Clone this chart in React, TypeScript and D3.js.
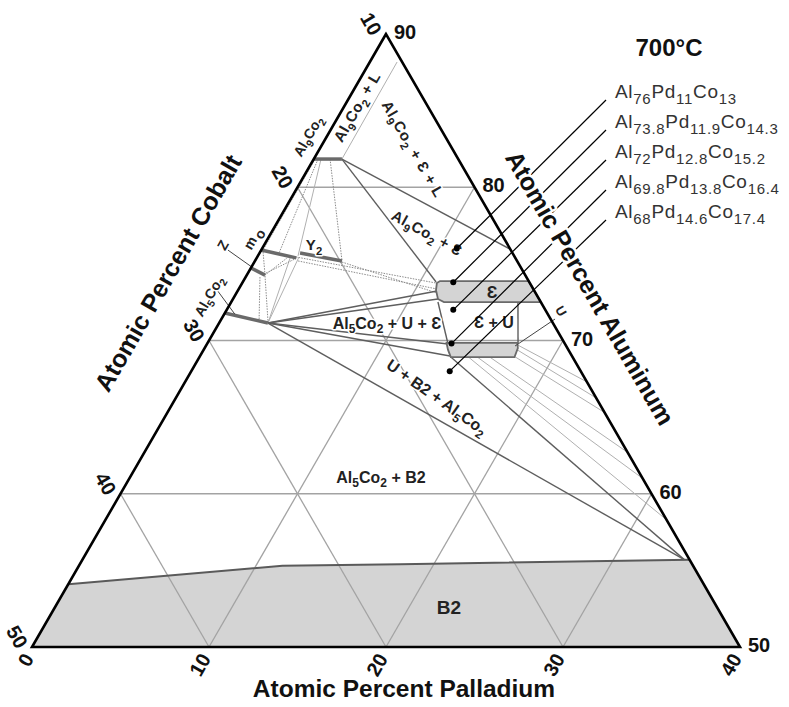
import React from 'react';
import * as d3 from 'd3';

type Pt = [number, number]; // [Al, Pd] in at.%

// frame: Al 50-90, Pd 0-40, Co 10-50
const alGrid = [60, 70, 80];
const pdGrid = [10, 20, 30];
const coGrid = [20, 30, 40];
const alTicks = [50, 60, 70, 80, 90];
const pdTicks = [0, 10, 20, 30, 40];
const coTicks = [10, 20, 30, 40, 50];

// B2 single phase upper boundary
const b2Boundary: Pt[] = [[54.1, 0], [55.3, 11.5], [55.4, 18.1], [55.7, 34.3]];
const b2Corner: Pt = [55.7, 34.0];

// single phase fields
const epsRegion: Pt[] = [
  [73.88, 11.11], [73.88, 16.12], [72.51, 17.49], [72.51, 12.02],
  [72.71, 11.58], [73.29, 11.18], [73.75, 11.0],
];
const uRegion: Pt[] = [
  [69.84, 13.5], [69.84, 17.5], [69.5, 17.7], [68.92, 17.8], [68.92, 14.2], [69.4, 13.8],
];

// line compounds
const barAl9Co2: Pt[] = [[81.84, 0], [81.84, 1.59]];
const barO: Pt[] = [[75.9, 0], [75.39, 2.23]];
const barY2: Pt[] = [[75.71, 2.29], [75.19, 4.92]];
const barZ: Pt[] = [[74.73, 0], [74.27, 1.03]];
const barAl5Co2: Pt[] = [[71.79, 0], [71.14, 2.76]];

// phase boundaries / tie triangles
const tiesDark: Pt[][] = [
  [[81.84, 1.59], [73.82, 10.92]],
  [[81.84, 1.59], [75.97, 14.02]],
  [[71.14, 2.76], [73.23, 11.27]],
  [[71.14, 2.76], [72.71, 11.58]],
  [[71.14, 2.76], [69.77, 13.62]],
  [[71.14, 2.76], [68.99, 14.12]],
  [[71.14, 2.76], b2Corner],
  [[68.92, 14.2], b2Corner],
  [[72.51, 11.68], [69.77, 13.62]],
  [[72.51, 16.2], [69.84, 17.54]],
];
const tiesLight: Pt[][] = [
  [[81.84, 1.59], [88.17, 1.54]],
  [[81.84, 0.41], [75.52, 2.27]],
  [[71.14, 2.76], [75.39, 1.89]],
  [[71.14, 2.76], [75.45, 2.36]],
  [[69.7, 17.6], [67.3, 22.7]],
  [[69.4, 17.7], [66.25, 23.75]],
  [[69.0, 17.7], [65.3, 24.7]],
  [[68.92, 16.4], [62.7, 27.3]],
  [[68.92, 15.7], [61.0, 29.0]],
  [[68.92, 15.2], [58.3, 31.7]],
];
const tiesDotted: Pt[][] = [
  [[81.84, 0.07], [75.9, 0.1]],
  [[81.84, 0.24], [75.65, 1.11]],
  [[81.84, 0.92], [75.19, 4.92]],
  [[75.45, 2.19], [73.75, 10.95]],
  [[75.19, 2.44], [73.36, 11.2]],
  [[75.12, 4.95], [73.1, 11.33]],
  [[74.27, 1.03], [75.84, 0.13]],
  [[74.27, 1.03], [75.39, 1.72]],
  [[74.4, 1.02], [75.39, 2.28]],
  [[74.14, 0.81], [71.34, 2.16]],
  [[74.21, 1.06], [71.21, 2.73]],
];
const leaders: Pt[][] = [
  [[75.9, -1.88], [74.79, 0.03]],
  [[73.3, -1.2], [71.72, 0.6]],
  [[71.4, 18.85], [69.64, 17.47]],
];

// analysed alloys
const alloyAl = [76, 73.8, 72, 69.8, 68];
const alloyPd = [11, 11.9, 12.8, 13.8, 14.6];
const alloyCo = [13, 14.3, 15.2, 16.4, 17.4];

const BL = [32, 647];
const BR = [740, 647];
const TOP = [386, 34];
const aScale = d3.scaleLinear().domain([50, 90]).range([0, 1]);
const pScale = d3.scaleLinear().domain([0, 40]).range([0, 1]);
const proj = ([al, pd]: Pt): [number, number] => {
  const a = aScale(al);
  const p = pScale(pd);
  return [BL[0] + p * (BR[0] - BL[0]) + a * (TOP[0] - BL[0]), BL[1] + a * (TOP[1] - BL[1])];
};
const line = d3.line<Pt>().x((d) => proj(d)[0]).y((d) => proj(d)[1]);
const closed = d3.line<Pt>().x((d) => proj(d)[0]).y((d) => proj(d)[1]).curve(d3.curveLinearClosed);

const FONT = 'Liberation Sans, Arial, Helvetica, sans-serif';

type Part = [string, number?];
const Chem = ({ parts, x, y, rot = 0, size = 15, sub, anchor = 'middle', fill = '#222', weight = 'bold', halo = true, ls = 0, baseline = false }: any) => {
  const sz = sub || size * 0.75;
  const shift = size * 0.3;
  let inSub = false;
  const spans = (parts as Part[]).map(([t, s], i) => {
    let dy = 0;
    if (s && !inSub) dy = shift;
    else if (!s && inSub) dy = -shift;
    inSub = !!s;
    return (
      <tspan key={i} dy={dy || undefined} fontSize={s ? sz : undefined}>
        {t}
      </tspan>
    );
  });
  return (
    <text
      transform={`translate(${x},${y}) rotate(${rot})`}
      textAnchor={anchor}
      dy={baseline ? undefined : '0.35em'}
      fontFamily={FONT}
      fontSize={size}
      fontWeight={weight}
      fill={fill}
      letterSpacing={ls}
      stroke={halo ? '#fff' : 'none'}
      strokeWidth={halo ? 3 : 0}
      strokeLinejoin="round"
      style={{ paintOrder: 'stroke', whiteSpace: 'pre' }}
    >
      {spans}
    </text>
  );
};

const EPS = 'Ɛ';

export default function App() {
  const b2Poly: Pt[] = [...b2Boundary, [50, 40], [50, 0]];
  const tri = [TOP, BL, BR];
  const gridSegs: Pt[][] = [
    ...alGrid.map((v) => [[v, 0], [v, 90 - v]] as Pt[]),
    ...pdGrid.map((v) => [[50, v], [90 - v, v]] as Pt[]),
    ...coGrid.map((v) => [[100 - v, 0], [50, 50 - v]] as Pt[]),
  ];
  const labelBase = alloyAl.map((_, i) => 98 + i * 30);

  return (
    <svg width={789} height={707} style={{ position: 'absolute', left: 0, top: 0, background: '#fff' }}>
      <path d={line(b2Poly) || ''} fill="#d4d4d4" stroke="none" />
      {gridSegs.map((s, i) => (
        <path key={i} d={line(s) || ''} stroke="#a3a3a3" strokeWidth={1.3} fill="none" />
      ))}
      <path d={line(b2Boundary) || ''} stroke="#5a5a5a" strokeWidth={2} fill="none" />

      {tiesLight.map((s, i) => (
        <path key={i} d={line(s) || ''} stroke="#b0b0b0" strokeWidth={1} fill="none" />
      ))}
      {tiesDotted.map((s, i) => (
        <path key={i} d={line(s) || ''} stroke="#8c8c8c" strokeWidth={1} strokeDasharray="1.5,1.2" fill="none" />
      ))}
      {tiesDark.map((s, i) => (
        <path key={i} d={line(s) || ''} stroke="#5e5e5e" strokeWidth={1.4} fill="none" />
      ))}

      <path d={closed(epsRegion) || ''} fill="#d4d4d4" stroke="#6a6a6a" strokeWidth={1.8} />
      <path d={closed(uRegion) || ''} fill="#d4d4d4" stroke="#6a6a6a" strokeWidth={1.8} />

      {[barAl9Co2, barO, barY2, barZ, barAl5Co2].map((b, i) => (
        <path key={i} d={line(b) || ''} stroke="#6a6a6a" strokeWidth={3.5} fill="none" />
      ))}
      {leaders.map((s, i) => (
        <path key={i} d={line(s) || ''} stroke="#444" strokeWidth={1} fill="none" />
      ))}

      <path d={`M${tri.map((p) => p.join(',')).join('L')}Z`} fill="none" stroke="#000" strokeWidth={2.6} strokeLinejoin="miter" />

      {/* field labels */}
      <Chem parts={[['Al'], ['9', 1], ['Co'], ['2', 1], [' + L']]} x={357} y={107} rot={-60} size={15} ls={0.4} />
      <Chem parts={[['Al'], ['9', 1], ['Co'], ['2', 1], [` + ${EPS} + L`]]} x={413} y={149} rot={60} size={15} ls={0.6} />
      <Chem parts={[['Al'], ['9', 1], ['Co'], ['2', 1], [` + ${EPS}`]]} x={427} y={233} rot={29} size={15} ls={0.4} />
      <Chem parts={[['Al'], ['9', 1], ['Co'], ['2', 1]]} x={308} y={136} rot={-60} size={14} />
      <Chem parts={[['Y'], ['2', 1]]} x={314} y={245} size={15} />
      <Chem parts={[['Z']]} x={223} y={245} rot={-60} size={14} />
      <Chem parts={[['m']]} x={250} y={243} rot={-60} size={14} />
      <Chem parts={[['o']]} x={260} y={234} rot={-60} size={14} />
      <Chem parts={[['Al'], ['5', 1], ['Co'], ['2', 1]]} x={209} y={296} rot={-60} size={14} />
      <Chem parts={[['Al'], ['5', 1], ['Co'], ['2', 1], [` + U + ${EPS}`]]} x={387} y={323} size={16} />
      <Chem parts={[[EPS]]} x={492} y={292} size={17} halo={false} />
      <Chem parts={[[`${EPS} + U`]]} x={494} y={322} size={16} />
      <Chem parts={[['U']]} x={561} y={311} rot={60} size={13} />
      <Chem parts={[['U + B2 + Al'], ['5', 1], ['Co'], ['2', 1]]} x={437} y={397} rot={35} size={16} />
      <Chem parts={[['Al'], ['5', 1], ['Co'], ['2', 1], [' + B2']]} x={381} y={477} size={16} />
      <Chem parts={[['B2']]} x={449} y={607} size={19} halo={false} />

      {/* analysed alloys */}
      {alloyAl.map((al, i) => {
        const [x, y] = proj([al, alloyPd[i]]);
        return (
          <g key={i}>
            <line x1={x} y1={y} x2={606} y2={labelBase[i] + 2} stroke="#000" strokeWidth={1.2} />
            <circle cx={x} cy={y} r={3} fill="#000" />
          </g>
        );
      })}

      {/* axis titles */}
      <text x={404} y={697} textAnchor="middle" fontFamily={FONT} fontSize={24.5} fontWeight="bold" fill="#111">
        Atomic Percent Palladium
      </text>
      <text transform="translate(168,273) rotate(-60)" textAnchor="middle" dy="0.35em" fontFamily={FONT} fontSize={25} fontWeight="bold" fill="#111">
        Atomic Percent Cobalt
      </text>
      <text
        transform="translate(590,288) rotate(60)"
        textAnchor="middle"
        dy="0.35em"
        fontFamily={FONT}
        fontSize={25}
        fontWeight="bold"
        fill="#111"
        stroke="#fff"
        strokeWidth={5}
        strokeLinejoin="round"
        style={{ paintOrder: 'stroke' }}
      >
        Atomic Percent Aluminum
      </text>
      <text x={669} y={56} textAnchor="middle" fontFamily={FONT} fontSize={24} fontWeight="bold" fill="#111">
        700°C
      </text>

      {alloyAl.map((al, i) => (
        <Chem
          key={i}
          parts={[['Al'], [String(al), 1], ['Pd'], [String(alloyPd[i]), 1], ['Co'], [String(alloyCo[i]), 1]]}
          x={615}
          y={labelBase[i]}
          anchor="start"
          size={19}
          sub={15}
          weight="normal"
          fill="#333"
          halo={false}
          ls={0.7}
          baseline
        />
      ))}

      {/* ticks */}
      {alTicks.map((v) => {
        const [x, y] = proj([v, 90 - v]);
        return (
          <text key={v} x={x + 19} y={y - 2} dy="0.35em" textAnchor="middle" fontFamily={FONT} fontSize={20} fontWeight="bold" fill="#111">
            {v}
          </text>
        );
      })}
      {coTicks.map((v) => {
        const [x, y] = proj([100 - v, 0]);
        return (
          <text key={v} transform={`translate(${x - 15},${y - 10}) rotate(60)`} dy="0.35em" textAnchor="middle" fontFamily={FONT} fontSize={20} fontWeight="bold" fill="#111">
            {v}
          </text>
        );
      })}
      {pdTicks.map((v) => {
        const [x, y] = proj([50, v]);
        return (
          <text key={v} transform={`translate(${x - 3.5},${y + 8}) rotate(-60)`} dy="0.35em" textAnchor="end" fontFamily={FONT} fontSize={20} fontWeight="bold" fill="#111">
            {v}
          </text>
        );
      })}
    </svg>
  );
}
